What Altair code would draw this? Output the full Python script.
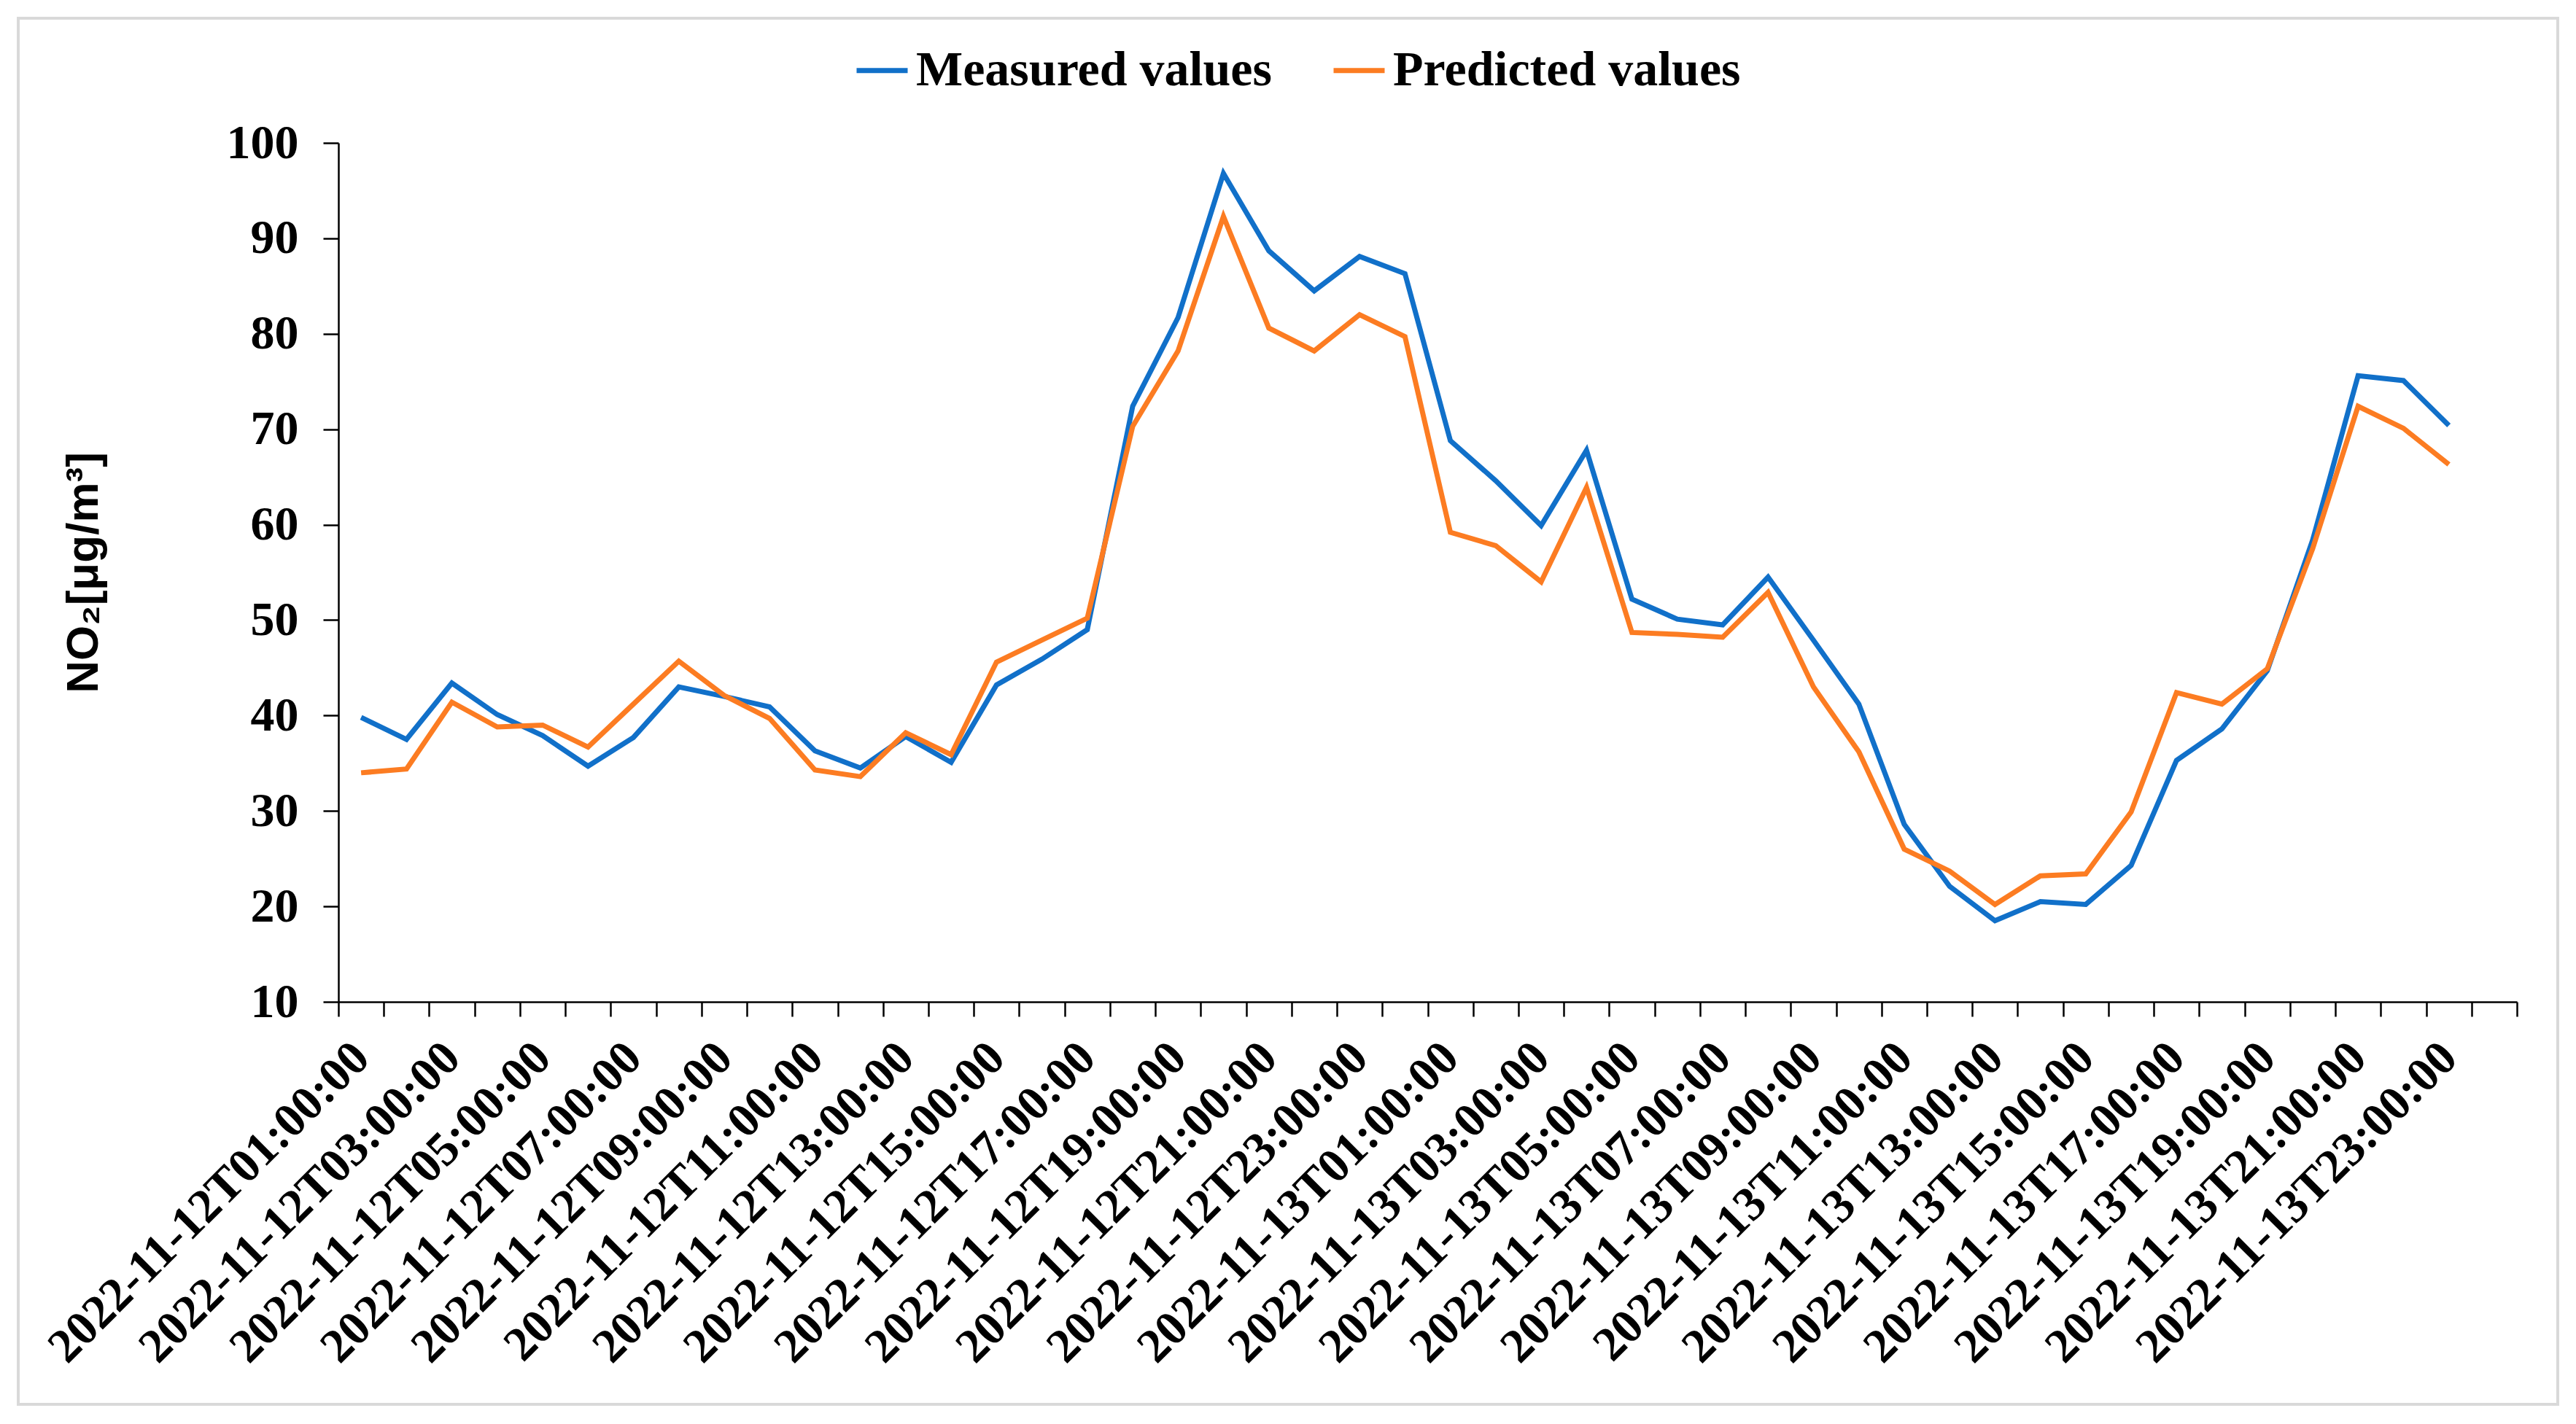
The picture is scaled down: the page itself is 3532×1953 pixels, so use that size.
import altair as alt
import pandas as pd

# Category labels (hourly timestamps)
categories = (
    [f"2022-11-12T{h:02d}:00:00" for h in range(1, 24)]
    + [f"2022-11-13T{h:02d}:00:00" for h in range(0, 24)]
    + ["2022-11-14T00:00:00"]
)

measured = [
    39.8, 37.5, 43.4, 40.1, 37.9, 34.7, 37.7, 43.0, 42.0, 40.9, 36.3, 34.5,
    37.8, 35.1, 43.2, 45.9, 49.0, 72.4, 81.7, 96.8, 88.7, 84.5, 88.1, 86.3,
    68.8, 64.6, 59.9, 67.8, 52.2, 50.1, 49.5, 54.5, 47.9, 41.2, 28.6, 22.1,
    18.5, 20.5, 20.2, 24.3, 35.3, 38.6, 44.7, 58.4, 75.6, 75.1, 70.4,
]
predicted = [
    34.0, 34.4, 41.4, 38.8, 39.0, 36.7, 41.2, 45.7, 42.1, 39.7, 34.3, 33.6,
    38.2, 35.9, 45.6, 47.9, 50.2, 70.3, 78.2, 92.3, 80.6, 78.2, 82.0, 79.7,
    59.2, 57.8, 54.0, 63.9, 48.7, 48.5, 48.2, 52.9, 43.0, 36.2, 26.0, 23.7,
    20.2, 23.2, 23.4, 29.9, 42.4, 41.2, 44.9, 57.5, 72.4, 70.1, 66.3,
]
series_names = ["Measured values", "Predicted values"]
series_colors = ["#1170C9", "#FC7C22"]
y_ticks = [10, 20, 30, 40, 50, 60, 70, 80, 90, 100]

rows = []
for name, vals in zip(series_names, [measured, predicted]):
    for t, v in zip(categories, vals):
        rows.append({"time": t, "value": v, "series": name})
df = pd.DataFrame(rows)

SERIF = "Liberation Serif"
SANS = "Liberation Sans"

lines = (
    alt.Chart(df)
    .mark_line(strokeWidth=7)
    .encode(
        x=alt.X(
            "time:N",
            scale=alt.Scale(type="band", domain=categories, paddingInner=0, paddingOuter=0),
            sort=categories,
            axis=alt.Axis(
                title=None,
                tickBand="extent",
                labelAngle=-45,
                labelAlign="right",
                labelBaseline="middle",
                labelPadding=46,
                labelLimit=0,
                labelOverlap=False,
                labelExpr="parseInt(substring(datum.label, 11, 13)) % 2 == 1 ? datum.label : ''",
                labelFont=SERIF,
                labelFontWeight="bold",
                labelFontSize=66,
                labelColor="black",
                tickSize=20,
                tickWidth=2.5,
                tickColor="black",
                domainColor="black",
                domainWidth=2.5,
                grid=False,
            ),
        ),
        y=alt.Y(
            "value:Q",
            scale=alt.Scale(domain=[10, 100], nice=False, zero=False),
            axis=alt.Axis(
                title="NO₂[μg/m³]",
                values=y_ticks,
                labelFont=SERIF,
                labelFontWeight="bold",
                labelFontSize=66,
                labelColor="black",
                labelPadding=34,
                tickSize=21,
                tickWidth=2.5,
                tickColor="black",
                domainColor="black",
                domainWidth=2.5,
                grid=False,
                titleFont=SANS,
                titleFontWeight="bold",
                titleFontSize=62,
                titleColor="black",
                titlePadding=164,
            ),
        ),
        color=alt.Color(
            "series:N",
            scale=alt.Scale(domain=series_names, range=series_colors),
            legend=alt.Legend(
                title=None,
                orient="none",
                legendX=707,
                legendY=-138,
                direction="horizontal",
                symbolType="stroke",
                symbolSize=4900,
                symbolStrokeWidth=7,
                labelFont=SERIF,
                labelFontWeight="bold",
                labelFontSize=68,
                labelColor="black",
                labelLimit=0,
                labelOffset=8,
                columnPadding=70,
            ),
        ),
    )
)

frame = (
    alt.Chart(pd.DataFrame({"k": [0]}))
    .mark_rect(fill=None, stroke="#D9D9D9", strokeWidth=4)
    .encode(
        x=alt.value(-439),
        x2=alt.value(3043),
        y=alt.value(-171),
        y2=alt.value(1730),
    )
)

chart = (
    alt.layer(frame, lines)
    .properties(
        width=2987,
        height=1178,
        autosize=alt.AutoSizeParams(type="none"),
        padding={"left": 456, "top": 188, "right": 73, "bottom": 571},
    )
    .configure_view(stroke=None)
)

chart.save("out.html", embed_options={"renderer": "svg", "actions": False})
